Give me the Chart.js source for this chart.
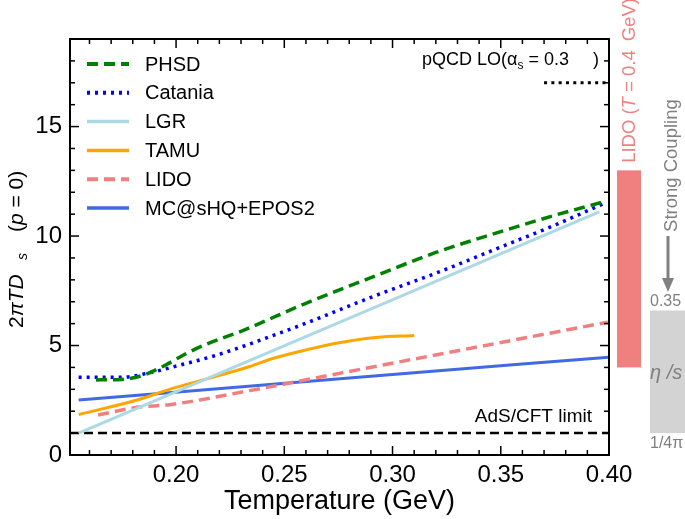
<!DOCTYPE html>
<html>
<head>
<meta charset="utf-8">
<script src="https://cdn.jsdelivr.net/npm/chart.js@4.4.1/dist/chart.umd.min.js"></script>
<style>body{margin:0;background:#fff}</style>
</head>
<body>
<canvas id="tdsChart" width="685" height="519"></canvas>
<script>
const FONT = '"Liberation Sans", Arial, Helvetica, sans-serif';

// temperature (GeV) and 2*pi*T*Ds values
const phsdT = [0.163, 0.175, 0.185, 0.195, 0.205, 0.215, 0.23, 0.26, 0.29, 0.32, 0.35, 0.375, 0.397];
const phsdV = [3.43, 3.45, 3.65, 4.1, 4.65, 5.1, 5.65, 6.93, 8.1, 9.25, 10.2, 10.95, 11.55];

const cataniaT = [0.155, 0.175, 0.187, 0.202, 0.219, 0.232, 0.26, 0.29, 0.322, 0.35, 0.375, 0.398];
const cataniaV = [3.55, 3.55, 3.74, 4.11, 4.57, 5.0, 6.02, 7.2, 8.38, 9.5, 10.5, 11.5];

const lgrT = [0.155, 0.3955];
const lgrV = [1.0, 11.1];

const tamuT = [0.155, 0.182, 0.197, 0.215, 0.234, 0.245, 0.26, 0.276, 0.291, 0.31];
const tamuV = [1.85, 2.51, 3.0, 3.5, 4.04, 4.42, 4.8, 5.14, 5.36, 5.46];

const lidoT = [0.164, 0.182, 0.197, 0.234, 0.276, 0.3995];
const lidoV = [1.83, 2.18, 2.3, 2.94, 3.74, 6.07];

const mcT = [0.155, 0.28, 0.40];
const mcV = [2.51, 3.52, 4.47];

const adsT = [0.151, 0.40];
const adsV = [1, 1];

const pqcdT = [0.370, 0.40];
const pqcdV = [17, 17];

const xTicks = [0.20, 0.25, 0.30, 0.35, 0.40];
const yTicks = [0, 5, 10, 15];

const lidoBand = [4, 13];    // LIDO (T = 0.4 GeV) bar, in 2piTDs units
const etaBand = [1, 6.6];    // eta/s band, 1/4pi .. 0.35
const arrowSpan = [10, 7.45];

function pts(t, v) {
  return t.map((x, i) => ({ x: x, y: v[i] }));
}

function line(label, t, v, color, width, dash) {
  return {
    label: label,
    data: pts(t, v),
    borderColor: color,
    backgroundColor: color,
    borderWidth: width,
    borderDash: dash,
    pointRadius: 0,
    cubicInterpolationMode: 'monotone',
    fill: false
  };
}

function drawPieces(ctx, pieces, x, y) {
  pieces.forEach(p => {
    if (p.at !== undefined) x = p.at;
    ctx.font = p.font;
    ctx.fillText(p.text, x, y + (p.dy || 0));
    x += ctx.measureText(p.text).width + (p.gap || 0);
  });
}

const legendBox = {
  id: 'legendBox',
  afterDraw(chart) {
    const { ctx, chartArea: a } = chart;
    ctx.save();
    chart.data.datasets.slice(0, 6).forEach((ds, i) => {
      const yy = a.top + 25 + i * 28.8;
      ctx.strokeStyle = ds.borderColor;
      ctx.lineWidth = ds.borderWidth + 0.5;
      ctx.setLineDash(ds.borderDash || []);
      ctx.beginPath();
      ctx.moveTo(a.left + 17, yy);
      ctx.lineTo(a.left + 59, yy);
      ctx.stroke();
      ctx.setLineDash([]);
      ctx.fillStyle = '#000';
      ctx.font = '20px ' + FONT;
      ctx.textBaseline = 'middle';
      ctx.fillText(ds.label, a.left + 75, yy + 1);
    });
    ctx.restore();
  }
};

const frameTicks = {
  id: 'frameTicks',
  afterDraw(chart) {
    const { ctx, chartArea: a, scales: { x, y } } = chart;
    ctx.save();
    ctx.strokeStyle = '#000';
    ctx.lineWidth = 1.5;
    const seg = (x0, y0, x1, y1) => { ctx.beginPath(); ctx.moveTo(x0, y0); ctx.lineTo(x1, y1); ctx.stroke(); };
    for (let i = 16; i <= 39; i++) {
      const px = x.getPixelForValue(i / 100);
      const len = i % 5 === 0 ? 9 : 5;
      seg(px, a.bottom, px, a.bottom - len);
      seg(px, a.top, px, a.top + len);
    }
    for (let v = 1; v < 19; v++) {
      const py = y.getPixelForValue(v);
      const len = v % 5 === 0 ? 9 : 5;
      seg(a.left, py, a.left + len, py);
      seg(a.right, py, a.right - len, py);
    }
    ctx.lineWidth = 2;
    ctx.strokeRect(a.left, a.top, a.right - a.left, a.bottom - a.top);

    // y axis title
    ctx.fillStyle = '#000';
    ctx.textBaseline = 'alphabetic';
    ctx.save();
    ctx.translate(23, y.getPixelForValue(9.5) + 81);
    ctx.rotate(-Math.PI / 2);
    drawPieces(ctx, [
      { text: '2', font: '21px ' + FONT },
      { text: 'πTD', font: 'italic 21px ' + FONT },
      { text: 's', font: 'italic 14px ' + FONT, dy: 4, at: 68 },
      { text: '(', font: '21px ' + FONT, at: 96 },
      { text: 'p', font: 'italic 21px ' + FONT },
      { text: ' = 0)', font: '21px ' + FONT }
    ], 0, 0);
    ctx.restore();

    // in-plot labels
    drawPieces(ctx, [
      { text: 'pQCD LO(', font: '18px ' + FONT },
      { text: 'α', font: '18px ' + FONT },
      { text: 's', font: '12px ' + FONT, dy: 4, gap: 5 },
      { text: '= 0.3', font: '18px ' + FONT },
      { text: ')', font: '18px ' + FONT, at: a.right - 16 }
    ], a.right - 187, y.getPixelForValue(17.8));
    ctx.font = '19px ' + FONT;
    ctx.textAlign = 'right';
    ctx.fillText('AdS/CFT limit', a.right - 17, y.getPixelForValue(1.53));
    ctx.textAlign = 'left';

    // LIDO bar at T = 0.4 GeV
    const bTop = y.getPixelForValue(lidoBand[1]);
    const bBot = y.getPixelForValue(lidoBand[0]);
    ctx.fillStyle = '#f08080';
    ctx.fillRect(a.right + 8, bTop, 24, bBot - bTop);
    ctx.save();
    ctx.translate(a.right + 26, bTop - 7.5);
    ctx.rotate(-Math.PI / 2);
    drawPieces(ctx, [
      { text: 'LIDO (', font: '18.5px ' + FONT },
      { text: 'T', font: 'italic 18.5px ' + FONT },
      { text: ' = 0.4', font: '18.5px ' + FONT },
      { text: 'GeV)', font: '18.5px ' + FONT, at: 121.6 }
    ], 0, 0);
    ctx.restore();

    // strong coupling arrow and eta/s band
    ctx.fillStyle = '#808080';
    ctx.save();
    ctx.translate(a.right + 68, y.getPixelForValue(10.05));
    ctx.rotate(-Math.PI / 2);
    ctx.font = '18.5px ' + FONT;
    ctx.fillText('Strong Coupling', 3, 0);
    ctx.restore();

    const ax = a.right + 59;
    const aTop = y.getPixelForValue(arrowSpan[0]);
    const aTip = y.getPixelForValue(arrowSpan[1]);
    ctx.strokeStyle = '#808080';
    ctx.lineWidth = 3;
    seg(ax, aTop, ax, aTip - 12);
    ctx.beginPath();
    ctx.moveTo(ax - 6, aTip - 14);
    ctx.lineTo(ax + 6, aTip - 14);
    ctx.lineTo(ax, aTip);
    ctx.closePath();
    ctx.fill();

    const eTop = y.getPixelForValue(etaBand[1]);
    const eBot = y.getPixelForValue(etaBand[0]);
    ctx.fillStyle = '#d3d3d3';
    ctx.fillRect(a.right + 41, eTop, 40, eBot - eTop);
    ctx.fillStyle = '#808080';
    ctx.font = '16px ' + FONT;
    ctx.fillText('0.35', a.right + 41, eTop - 4);
    ctx.fillText('1/4π', a.right + 41, eBot + 15);
    ctx.font = 'italic 20px ' + FONT;
    ctx.fillText('η /s', a.right + 41, y.getPixelForValue(3.45));
    ctx.restore();
  }
};

new Chart(document.getElementById('tdsChart'), {
  type: 'line',
  data: {
    datasets: [
      line('PHSD', phsdT, phsdV, '#008000', 3.5, [11, 6]),
      line('Catania', cataniaT, cataniaV, '#0000ff', 3.5, [3, 5]),
      line('LGR', lgrT, lgrV, '#add8e6', 3, []),
      line('TAMU', tamuT, tamuV, '#ffa500', 3, []),
      line('LIDO', lidoT, lidoV, '#f08080', 3.5, [11, 6]),
      line('MC@sHQ+EPOS2', mcT, mcV, '#4169e1', 3, []),
      line('AdS/CFT', adsT, adsV, '#000000', 2.5, [9, 5]),
      line('pQCD', pqcdT, pqcdV, '#000000', 3, [3, 4.3])
    ]
  },
  options: {
    responsive: false,
    animation: false,
    layout: { padding: { top: 39, right: 76, left: 0, bottom: 0 } },
    plugins: {
      legend: { display: false },
      tooltip: { enabled: false }
    },
    scales: {
      x: {
        type: 'linear',
        min: 0.151,
        max: 0.40,
        afterBuildTicks: s => { s.ticks = xTicks.map(v => ({ value: v })); },
        afterFit: s => { s.height = 64; },
        grid: { display: false, drawTicks: false },
        border: { display: false },
        ticks: {
          color: '#000',
          font: { family: FONT, size: 24 },
          padding: 6,
          maxRotation: 0,
          callback: v => v.toFixed(2)
        },
        title: {
          display: true,
          text: 'Temperature (GeV)',
          color: '#000',
          font: { family: FONT, size: 27 },
          padding: { top: 0, bottom: 1 }
        }
      },
      y: {
        min: 0,
        max: 19,
        afterBuildTicks: s => { s.ticks = yTicks.map(v => ({ value: v })); },
        afterFit: s => { s.width = 70; },
        grid: { display: false, drawTicks: false },
        border: { display: false },
        ticks: {
          color: '#000',
          font: { family: FONT, size: 24 },
          padding: 8
        }
      }
    }
  },
  plugins: [legendBox, frameTicks]
});
</script>
</body>
</html>
